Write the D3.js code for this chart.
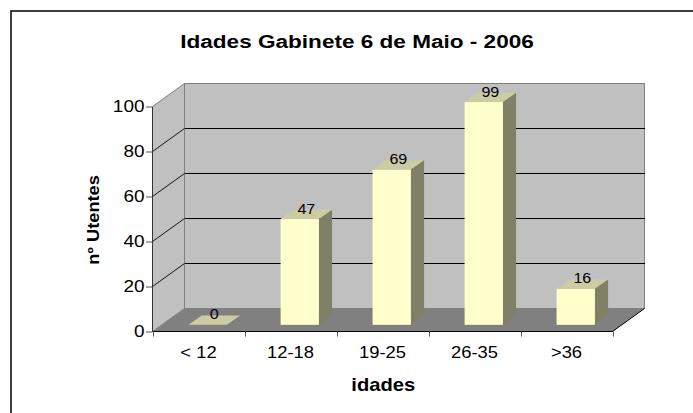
<!DOCTYPE html>
<html>
<head>
<meta charset="utf-8">
<script src="https://cdn.jsdelivr.net/npm/d3@7"></script>
<style>
  html, body { margin: 0; background: #fff; overflow: hidden; }
  svg { display: block; font-family: 'Liberation Sans', Arial, sans-serif; }
</style>
</head>
<body>
<div id="main-container"></div>
<script>
const WIDTH = 693
const HEIGHT = 413
const TITLE = 'Idades Gabinete 6 de Maio - 2006'
const Y_TITLE = 'nº Utentes'
const X_TITLE = 'idades'

// data
const CATEGORIES = ['< 12', '12-18', '19-25', '26-35', '>36']
const VALUES = [0, 47, 69, 99, 16]
const Y_TICKS = [0, 20, 40, 60, 80, 100]
const GRID_VALUES = [20, 40, 60, 80]

// front plane of the 3d box + depth vector
const LEFT = 152.5
const RIGHT = 612.5
const BOTTOM = 331.5
const TOP = 106.5
const DX = 32
const DY = -23
const BAR_FRONT = 0.29   // where bar front face sits, as fraction of depth
const BAR_DEPTH = 0.41   // bar thickness, as fraction of depth

const WALL_COLOR = '#C0C0C0'
const WALL_EDGE = '#808080'
const FLOOR_COLOR = '#808080'
const BAR_FRONT_COLOR = '#FFFFCC'
const BAR_TOP_COLOR = '#CCCCA3'
const BAR_SIDE_COLOR = '#808066'

const SX = 1.15  // the source font runs wide, stretch text a bit

const X_SCALE = d3.scaleBand()
    .domain(CATEGORIES)
    .range([LEFT, RIGHT])
    .paddingInner(0.583)
    .paddingOuter(0.2915)

const X_LABEL_SCALE = d3.scaleBand()
    .domain(CATEGORIES)
    .range([LEFT, RIGHT])

const Y_SCALE = d3.scaleLinear()
    .domain([0, 100])
    .range([BOTTOM, TOP])

const SVG = d3.select('#main-container')
    .append('svg')
    .attr('width', WIDTH)
    .attr('height', HEIGHT)

const place = (x, y, sx, rot) => `translate(${x},${y})${rot ? ` rotate(${rot})` : ''} scale(${sx},1)`
const pts = arr => arr.map(p => p.join(',')).join(' ')

// outer chart border, only top and left edges are inside the frame
SVG.append('path')
    .attr('d', `M11,${HEIGHT + 5}V11H${WIDTH + 5}`)
    .attr('fill', 'none')
    .attr('stroke', '#000')
    .attr('stroke-width', 1.5)

// title
SVG.append('text')
    .attr('transform', place(357, 47.7, 1.22))
    .attr('text-anchor', 'middle')
    .style('font-size', '18.5px')
    .style('font-weight', 'bold')
    .text(TITLE)

// side wall
SVG.append('polygon')
    .attr('points', pts([[LEFT, BOTTOM], [LEFT, TOP], [LEFT + DX, TOP + DY], [LEFT + DX, BOTTOM + DY]]))
    .attr('fill', WALL_COLOR)
    .attr('stroke', WALL_EDGE)

// back wall
SVG.append('rect')
    .attr('x', LEFT + DX)
    .attr('y', TOP + DY)
    .attr('width', RIGHT - LEFT)
    .attr('height', BOTTOM - TOP)
    .attr('fill', WALL_COLOR)
    .attr('stroke', WALL_EDGE)

// floor
SVG.append('polygon')
    .attr('points', pts([[LEFT, BOTTOM], [RIGHT, BOTTOM], [RIGHT + DX, BOTTOM + DY], [LEFT + DX, BOTTOM + DY]]))
    .attr('fill', FLOOR_COLOR)
SVG.append('line')
    .attr('x1', RIGHT).attr('y1', BOTTOM)
    .attr('x2', RIGHT + DX).attr('y2', BOTTOM + DY)
    .attr('stroke', '#000')

// gridlines, back wall and side wall
SVG.selectAll('.grid-back')
    .data(GRID_VALUES)
    .enter()
    .append('line')
    .attr('class', 'grid-back')
    .attr('x1', LEFT + DX)
    .attr('x2', RIGHT + DX)
    .attr('y1', d => Y_SCALE(d) + DY)
    .attr('y2', d => Y_SCALE(d) + DY)
    .attr('stroke', '#000')
    .style('shape-rendering', 'crispEdges')

SVG.selectAll('.grid-side')
    .data(GRID_VALUES)
    .enter()
    .append('line')
    .attr('class', 'grid-side')
    .attr('x1', LEFT)
    .attr('x2', LEFT + DX)
    .attr('y1', d => Y_SCALE(d))
    .attr('y2', d => Y_SCALE(d) + DY)
    .attr('stroke', '#000')
    .attr('stroke-width', 0.9)

// y axis
const Y_AXIS = SVG.append('g')
    .attr('transform', `translate(${LEFT - 0.5}, 0)`)
    .call(d3.axisLeft(Y_SCALE).tickValues(Y_TICKS).tickSize(6).tickSizeOuter(0).tickFormat(d3.format('d')))
Y_AXIS.select('.domain').attr('stroke', '#333')
Y_AXIS.selectAll('.tick line').attr('stroke', '#555')
Y_AXIS.selectAll('.tick text')
    .attr('x', -7.5 / SX)
    .attr('transform', `scale(${SX},1)`)
    .style('font-size', '16.5px')
    .style('font-family', "'Liberation Sans', Arial, sans-serif")
    .attr('fill', '#000')

// x axis (labels centred in each category, ticks at boundaries)
const X_AXIS = SVG.append('g')
    .attr('transform', `translate(0, ${BOTTOM - 0.5})`)
    .call(d3.axisBottom(X_LABEL_SCALE).tickSize(0).tickSizeOuter(0))
X_AXIS.select('.domain').attr('stroke', '#000')
X_AXIS.selectAll('.tick text')
    .attr('y', 27)
    .attr('dy', 0)
    .attr('transform', `scale(${SX},1)`)
    .style('font-size', '16px')
    .style('font-family', "'Liberation Sans', Arial, sans-serif")
    .attr('fill', '#000')

const BOUNDARIES = CATEGORIES.map(c => X_LABEL_SCALE(c)).concat([X_LABEL_SCALE.range()[1]])
SVG.selectAll('.x-tick')
    .data(BOUNDARIES)
    .enter()
    .append('line')
    .attr('class', 'x-tick')
    .attr('x1', d => Math.round(d) + 0.5)
    .attr('x2', d => Math.round(d) + 0.5)
    .attr('y1', BOTTOM)
    .attr('y2', BOTTOM + 5)
    .attr('stroke', '#555')

// bars
const BW = X_SCALE.bandwidth()
const BDX = DX * BAR_DEPTH
const BDY = DY * BAR_DEPTH
const barX = c => X_SCALE(c) + DX * BAR_FRONT
const barTop = v => Y_SCALE(v) + DY * BAR_FRONT
const barBottom = Y_SCALE(0) + DY * BAR_FRONT

const BARS = SVG.selectAll('.bar')
    .data(CATEGORIES.map((c, i) => ({ cat: c, value: VALUES[i] })))
    .enter()
    .append('g')
    .attr('class', 'bar')

BARS.append('rect')
    .attr('x', d => barX(d.cat))
    .attr('y', d => barTop(d.value))
    .attr('width', BW)
    .attr('height', d => barBottom - barTop(d.value))
    .attr('fill', BAR_FRONT_COLOR)

BARS.append('polygon')
    .attr('points', d => {
        const x = barX(d.cat), y = barTop(d.value)
        return pts([[x, y], [x + BW, y], [x + BW + BDX, y + BDY], [x + BDX, y + BDY]])
    })
    .attr('fill', BAR_TOP_COLOR)

BARS.filter(d => d.value > 0)
    .append('polygon')
    .attr('points', d => {
        const x = barX(d.cat) + BW, y = barTop(d.value)
        return pts([[x, y], [x + BDX, y + BDY], [x + BDX, barBottom + BDY], [x, barBottom]])
    })
    .attr('fill', BAR_SIDE_COLOR)

// value labels
BARS.append('text')
    .attr('transform', d => place(barX(d.cat) + BW / 2 + BDX / 2, barTop(d.value) - 5.5, SX))
    .attr('text-anchor', 'middle')
    .style('font-size', '14px')
    .text(d => d.value)

// axis titles
SVG.append('text')
    .attr('transform', place(99, 220, 1.14, -90))
    .attr('text-anchor', 'middle')
    .style('font-size', '16px')
    .style('font-weight', 'bold')
    .text(Y_TITLE)

SVG.append('text')
    .attr('transform', place(383.3, 391, 1.12))
    .attr('text-anchor', 'middle')
    .style('font-size', '18px')
    .style('font-weight', 'bold')
    .text(X_TITLE)
</script>
</body>
</html>
